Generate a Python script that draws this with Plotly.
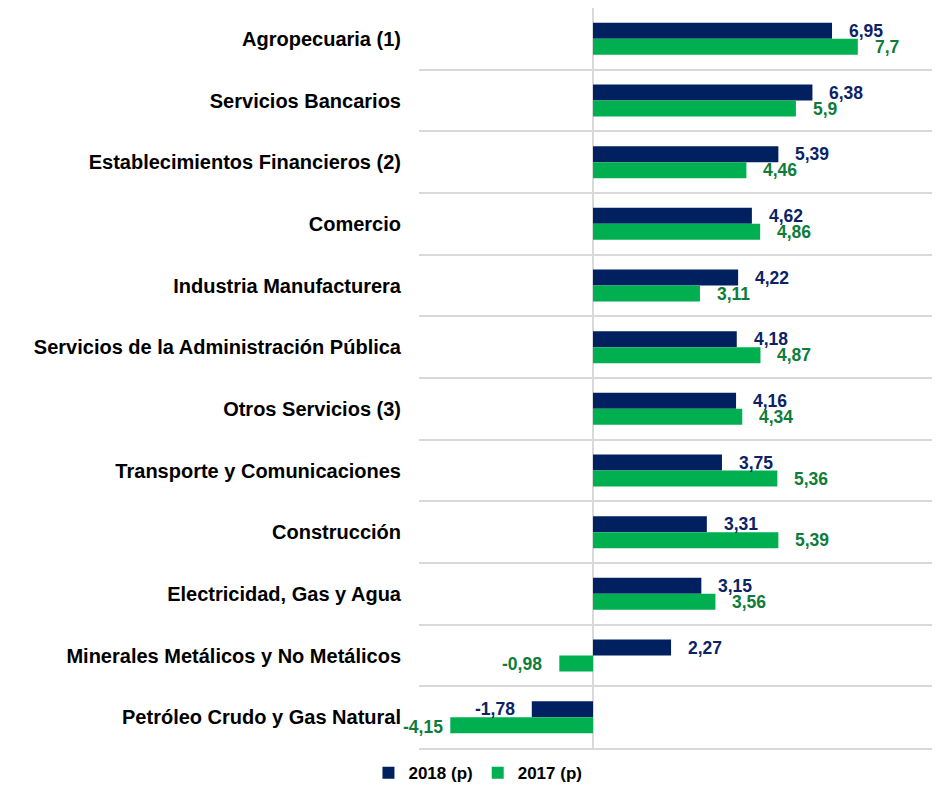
import plotly.graph_objects as go

categories = [
    "Agropecuaria (1)",
    "Servicios Bancarios",
    "Establecimientos Financieros (2)",
    "Comercio",
    "Industria Manufacturera",
    "Servicios de la Administración Pública",
    "Otros Servicios (3)",
    "Transporte y Comunicaciones",
    "Construcción",
    "Electricidad, Gas y Agua",
    "Minerales Metálicos y No Metálicos",
    "Petróleo Crudo y Gas Natural",
]
values_2018 = [6.95, 6.38, 5.39, 4.62, 4.22, 4.18, 4.16, 3.75, 3.31, 3.15, 2.27, -1.78]
values_2017 = [7.7, 5.9, 4.46, 4.86, 3.11, 4.87, 4.34, 5.36, 5.39, 3.56, -0.98, -4.15]
series_names = ["2018 (p)", "2017 (p)"]

NAVY = "#002060"
GREEN = "#00B050"
NAVY_TXT = "#0B2366"
GREEN_TXT = "#0E7C3A"
FONT = "Liberation Sans, Arial, sans-serif"
GRID = "#d9d9d9"

fig = go.Figure()
fig.add_trace(go.Bar(y=categories, x=values_2018, name=series_names[0], orientation="h",
                     marker=dict(color=NAVY, line=dict(width=0))))
fig.add_trace(go.Bar(y=categories, x=values_2017, name=series_names[1], orientation="h",
                     marker=dict(color=GREEN, line=dict(width=0))))

def fmt(v):
    return str(v).replace(".", ",")

# label gap nudges (style only)
gap_default = 15
gap_special = {("2017", "Petróleo Crudo y Gas Natural"): 5}

annotations = []
for key, vals, color, ys in (("2018", values_2018, NAVY_TXT, 8), ("2017", values_2017, GREEN_TXT, -8)):
    for c, v in zip(categories, vals):
        g = gap_special.get((key, c), gap_default)
        extra_y = -2 if (key, c) in gap_special else 0
        annotations.append(dict(
            x=v, y=c, xref="x", yref="y", text=fmt(v), showarrow=False,
            xanchor="left" if v >= 0 else "right",
            xshift=g if v >= 0 else -g, yshift=ys + extra_y,
            font=dict(family=FONT, size=17.5, color=color, weight="bold"),
        ))

# page body has an 8px margin, so the figure is 8px smaller than the window
fig.update_layout(
    width=932, height=777,
    margin=dict(l=411, r=0, t=0, b=37, autoexpand=False),
    paper_bgcolor="white", plot_bgcolor="white",
    barmode="group", bargap=0.482, bargroupgap=0,
    font=dict(family=FONT, size=18, color="black", weight="bold"),
    annotations=annotations,
    showlegend=True,
    legend=dict(orientation="h", x=-0.097, xanchor="left", y=-0.034, yanchor="middle",
                font=dict(family=FONT, size=17, color="black", weight="bold"), traceorder="normal"),
    xaxis=dict(range=[-5.06, 10.09], showgrid=False, showticklabels=False, ticks="",
               zeroline=True, zerolinecolor=GRID, zerolinewidth=2, fixedrange=True,
               showline=True, mirror=True, linecolor=GRID, linewidth=1.5, automargin=False),
    yaxis=dict(type="category", autorange="reversed", tickson="boundaries",
               showgrid=True, gridcolor=GRID, gridwidth=1.5, ticks="",
               ticklabelstandoff=17, automargin=False, showline=False,
               tickfont=dict(family=FONT, size=20, color="black", weight="bold")),
)

fig.write_html("out.html")
